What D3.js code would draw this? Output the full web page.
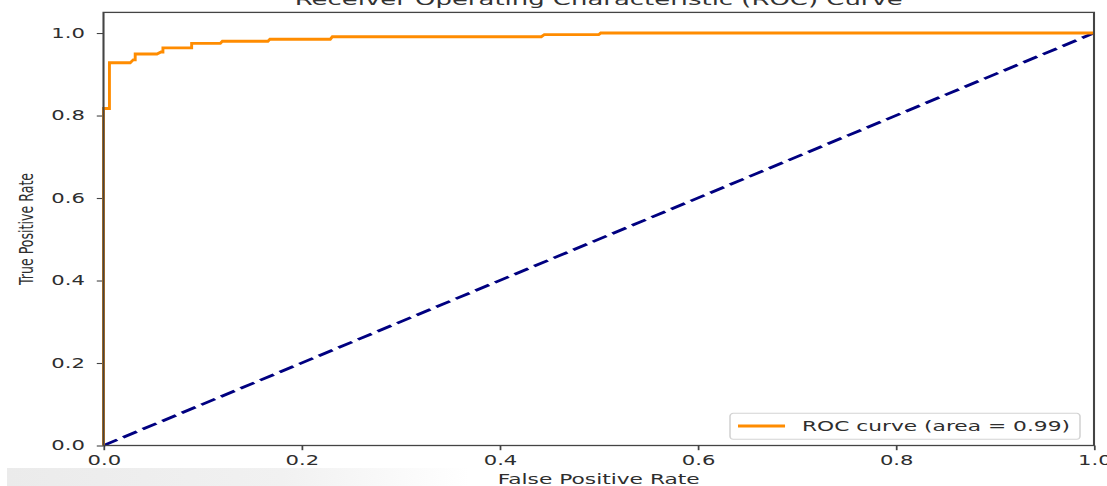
<!DOCTYPE html>
<html>
<head>
<meta charset="utf-8">
<script src="https://cdn.jsdelivr.net/npm/d3@7"></script>
<style>
  html, body { margin: 0; padding: 0; background: #fff; overflow: hidden; }
  svg { display: block; }
</style>
</head>
<body>
<svg id="chart" width="1107" height="486"></svg>
<script>
// ROC curve corner points (false positive rate, true positive rate)
const fpr = [0, 0, 0.006, 0.006, 0.027, 0.030, 0.032, 0.032, 0.054, 0.058, 0.060, 0.060,
             0.089, 0.089, 0.118, 0.120, 0.166, 0.168, 0.229, 0.231, 0.442, 0.445, 0.500, 0.502, 1.0];
const tpr = [0, 0.817, 0.817, 0.928, 0.928, 0.935, 0.935, 0.949, 0.949, 0.954, 0.954, 0.964,
             0.964, 0.975, 0.975, 0.980, 0.980, 0.985, 0.985, 0.991, 0.991, 0.996, 0.996, 1.0, 1.0];

// Chance diagonal
const chanceFpr = [0, 1];
const chanceTpr = [0, 1];

const xTickValues = [0, 0.2, 0.4, 0.6, 0.8, 1.0];
const yTickValues = [0, 0.2, 0.4, 0.6, 0.8, 1.0];

const titleText = "Receiver Operating Characteristic (ROC) Curve";
const xLabelText = "False Positive Rate";
const yLabelText = "True Positive Rate";
const legendText = "ROC curve (area = 0.99)";

// Figure is drawn in a narrow frame and stretched horizontally
const W = 1107, H = 486, SX = 1.6;
const plotLeft = 103.5 / SX, plotRight = 1094 / SX;
const plotTop = 12.4, plotBottom = 445.5;
const FONT = "'DejaVu Sans', sans-serif";

const svg = d3.select("#chart");

// soft grey strip along the bottom edge
const defs = svg.append("defs");
const grad = defs.append("linearGradient").attr("id", "strip").attr("x1", 0).attr("x2", 1).attr("y1", 0).attr("y2", 0);
grad.append("stop").attr("offset", "0%").attr("stop-color", "#ebebeb");
grad.append("stop").attr("offset", "25%").attr("stop-color", "#f1f1f1");
grad.append("stop").attr("offset", "42%").attr("stop-color", "#ffffff");
svg.append("rect").attr("x", 7).attr("y", 468).attr("width", W - 7).attr("height", H - 468)
  .attr("fill", "url(#strip)");

const g = svg.append("g").attr("transform", `scale(${SX},1)`);

const x = d3.scaleLinear().domain([0, 1]).range([plotLeft, plotRight]);
const y = d3.scaleLinear().domain([0, 1.05]).range([plotBottom, plotTop]);

// axes
const fmt = d3.format(".1f");
const xAxis = g.append("g").attr("transform", `translate(0,${plotBottom})`)
  .call(d3.axisBottom(x).tickValues(xTickValues).tickFormat(fmt).tickSize(4.7).tickPadding(5.8));
const yAxis = g.append("g").attr("transform", `translate(${plotLeft},0)`)
  .call(d3.axisLeft(y).tickValues(yTickValues).tickFormat(fmt).tickSize(4.2).tickPadding(7.4));
[xAxis, yAxis].forEach(a => {
  a.select(".domain").remove();
  a.selectAll(".tick line").attr("stroke", "#444").attr("stroke-width", 1.1);
  a.selectAll(".tick text").attr("fill", "#2e2e2e").style("font-family", FONT).style("font-size", "13.2px");
});

// chance line
const line = d3.line().x(d => x(d[0])).y(d => y(d[1]));
g.append("path")
  .datum(chanceFpr.map((v, i) => [v, chanceTpr[i]]))
  .attr("d", line)
  .attr("fill", "none")
  .attr("stroke", "#000080")
  .attr("stroke-width", 2.6)
  .attr("stroke-dasharray", "10.3,4.4");

// ROC curve
g.append("path")
  .datum(fpr.map((v, i) => [v, tpr[i]]))
  .attr("d", line)
  .attr("fill", "none")
  .attr("stroke", "#ff8c00")
  .attr("stroke-width", 2.9)
  .attr("vector-effect", "non-scaling-stroke")
  .attr("stroke-linejoin", "miter");

// frame
g.append("rect")
  .attr("x", plotLeft).attr("y", plotTop)
  .attr("width", plotRight - plotLeft).attr("height", plotBottom - plotTop)
  .attr("fill", "none").attr("stroke", "#444").attr("stroke-width", 1.3);

// title
g.append("text")
  .attr("x", (plotLeft + plotRight) / 2).attr("y", 5)
  .attr("text-anchor", "middle")
  .style("font-family", FONT).style("font-size", "16.2px").attr("fill", "#333")
  .text(titleText);

// axis labels
g.append("text")
  .attr("x", (plotLeft + plotRight) / 2).attr("y", 484)
  .attr("text-anchor", "middle")
  .style("font-family", FONT).style("font-size", "13.6px").attr("fill", "#2e2e2e")
  .text(xLabelText);

g.append("text")
  .attr("transform", `translate(${20.8},${(plotTop + plotBottom) / 2}) rotate(-90)`)
  .attr("text-anchor", "middle")
  .style("font-family", FONT).style("font-size", "12.6px").attr("fill", "#2e2e2e")
  .text(yLabelText);

// legend (lower right)
const lgW = 218.75, lgH = 26;
const lgX = plotRight - 8.75 - lgW, lgY = plotBottom - 6.2 - lgH;
const lg = g.append("g").attr("transform", `translate(${lgX},${lgY})`);
lg.append("rect").attr("width", lgW).attr("height", lgH).attr("rx", 2).attr("ry", 3)
  .attr("fill", "#fff").attr("fill-opacity", 0.8)
  .attr("stroke", "#d4d4d4").attr("stroke-width", 1);
lg.append("line").attr("x1", 5).attr("x2", 34.4).attr("y1", 12.7).attr("y2", 12.7)
  .attr("stroke", "#ff8c00").attr("stroke-width", 2.8);
lg.append("text").attr("x", 45).attr("y", 18.2)
  .style("font-family", FONT).style("font-size", "13.6px").attr("fill", "#2e2e2e")
  .text(legendText);
</script>
</body>
</html>
